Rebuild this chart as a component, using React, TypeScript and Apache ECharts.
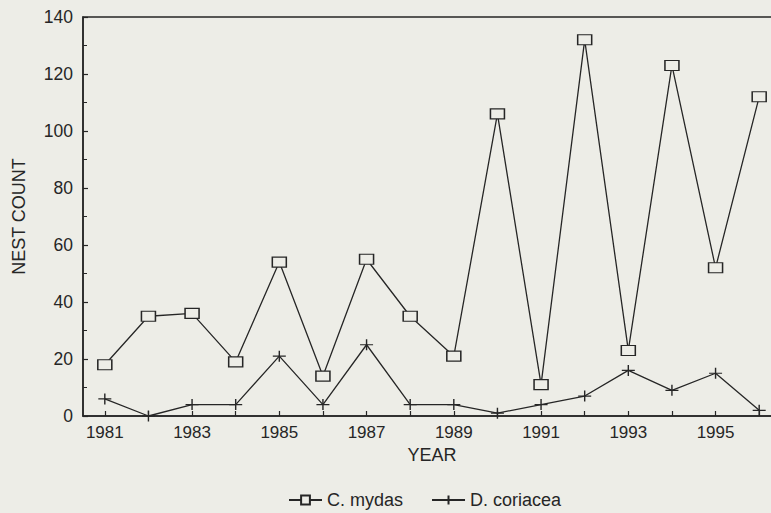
import React, { useEffect, useRef } from "react";
import * as echarts from "echarts";

const years = ["1981","1982","1983","1984","1985","1986","1987","1988","1989","1990","1991","1992","1993","1994","1995","1996"];
const cMydas = [18, 35, 36, 19, 54, 14, 55, 35, 21, 106, 11, 132, 23, 123, 52, 112];
const dCoriacea = [6, 0, 4, 4, 21, 4, 25, 4, 4, 1, 4, 7, 16, 9, 15, 2];
const yTicks = { min: 0, max: 140, interval: 20 };

const BG = "#edede7";
const INK = "#262626";
const FONT = "'Liberation Sans', Arial, sans-serif";

export default function App() {
  const ref = useRef<HTMLDivElement>(null);
  useEffect(() => {
    if (!ref.current) return;
    const chart = echarts.init(ref.current, undefined, { renderer: "svg" });
    chart.setOption({
      animation: false,
      backgroundColor: BG,
      textStyle: { fontFamily: FONT, color: INK },
      grid: {
        left: 83,
        top: 17,
        width: 698,
        bottom: 97,
        outerBoundsMode: "none",
        containLabel: false,
        show: true,
        borderColor: INK,
        borderWidth: 1.5,
        backgroundColor: "transparent",
      },
      legend: {
        top: 486,
        left: 283,
        itemWidth: 33,
        itemHeight: 11,
        itemGap: 28,
        textStyle: { fontSize: 18, color: INK, fontFamily: FONT },
        data: ["C. mydas", "D. coriacea"],
      },
      xAxis: {
        type: "category",
        data: years,
        boundaryGap: true,
        name: "YEAR",
        nameLocation: "middle",
        nameGap: 30,
        nameTextStyle: { fontSize: 18, color: INK, fontFamily: FONT },
        axisLine: { lineStyle: { color: INK, width: 1.5 } },
        axisTick: { show: true, inside: true, length: 5, interval: 0, alignWithLabel: true, lineStyle: { color: INK, width: 1.2 } },
        axisLabel: { interval: 1, fontSize: 17, color: INK, margin: 8, fontFamily: FONT },
        splitLine: { show: false },
      },
      yAxis: {
        type: "value",
        min: yTicks.min,
        max: yTicks.max,
        interval: yTicks.interval,
        name: "NEST COUNT",
        nameLocation: "middle",
        nameGap: 55,
        nameTextStyle: { fontSize: 18, color: INK, fontFamily: FONT },
        axisLine: { show: true, lineStyle: { color: INK, width: 1.5 } },
        axisTick: { show: true, inside: true, length: 5, lineStyle: { color: INK, width: 1.2 } },
        minorTick: { show: true, splitNumber: 2, length: 4, lineStyle: { color: INK, width: 1 } },
        axisLabel: { fontSize: 17.5, color: INK, margin: 10, fontFamily: FONT },
        splitLine: { show: false },
      },
      series: [
        {
          name: "C. mydas",
          type: "line",
          data: cMydas,
          symbol: "rect",
          symbolSize: [14, 10],
          showAllSymbol: true,
          lineStyle: { color: INK, width: 1.3 },
          itemStyle: { color: BG, borderColor: INK, borderWidth: 1.3 },
          z: 3,
        },
        {
          name: "D. coriacea",
          type: "line",
          data: dCoriacea,
          symbol: "path://M0,6L14,6M7,0L7,12",
          symbolSize: [13, 11],
          showAllSymbol: true,
          lineStyle: { color: INK, width: 1.3 },
          itemStyle: { color: INK, borderColor: INK, borderWidth: 1.3 },
          z: 2,
        },
      ],
    });
    return () => chart.dispose();
  }, []);
  return (
    <div
      ref={ref}
      style={{ position: "fixed", left: 0, top: 0, width: 771, height: 513, background: BG }}
    />
  );
}
